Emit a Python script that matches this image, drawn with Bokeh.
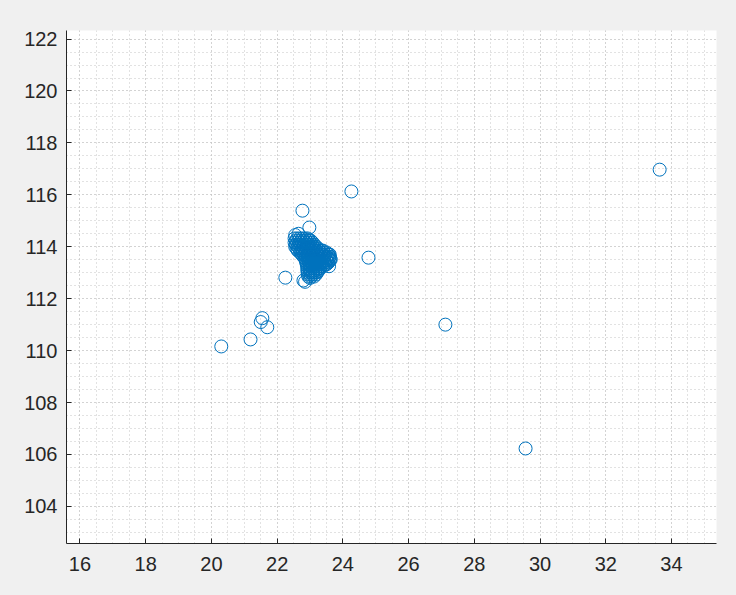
from bokeh.plotting import figure
from bokeh.models import Range1d, FixedTicker
from bokeh.embed import file_html
from bokeh.resources import INLINE

# Isolated points
x_outliers = [33.64, 29.56, 27.12, 24.26, 24.78, 22.77, 22.25, 20.30, 21.19, 21.50, 21.55, 21.70, 22.98,
              22.55, 22.65, 22.80, 22.85, 23.00, 23.60, 23.63, 23.58]
y_outliers = [116.97, 106.23, 111.00, 116.13, 113.58, 115.39, 112.81, 110.16, 110.43, 111.10, 111.25, 110.90, 114.74,
              114.45, 114.50, 112.70, 112.65, 112.80, 113.70, 113.50, 113.25]

# Dense cluster, read row by row (y level, then x values of the points on that row)
cluster_y_levels = [114.32, 114.24, 114.16, 114.08, 114.00, 113.93, 113.85, 113.78, 113.70, 113.62,
                    113.55, 113.47, 113.39, 113.32, 113.24, 113.16, 113.08, 113.01, 112.93, 112.85]
cluster_x_rows = [
    [22.53, 22.61, 22.69, 22.77, 22.85, 22.93],
    [22.57, 22.65, 22.73, 22.81, 22.89, 22.97, 23.02],
    [22.53, 22.61, 22.69, 22.77, 22.85, 22.93, 23.01, 23.08],
    [22.57, 22.65, 22.73, 22.81, 22.89, 22.97, 23.05, 23.13],
    [22.55, 22.63, 22.71, 22.79, 22.87, 22.95, 23.03, 23.11, 23.19],
    [22.59, 22.67, 22.75, 22.83, 22.91, 22.99, 23.07, 23.15, 23.25],
    [22.63, 22.71, 22.79, 22.87, 22.95, 23.03, 23.11, 23.19, 23.27, 23.35, 23.40],
    [22.70, 22.78, 22.86, 22.94, 23.02, 23.10, 23.18, 23.26, 23.34, 23.42, 23.50],
    [22.75, 22.83, 22.91, 22.99, 23.07, 23.15, 23.23, 23.31, 23.39, 23.47, 23.55, 23.58],
    [22.80, 22.88, 22.96, 23.04, 23.12, 23.20, 23.28, 23.36, 23.44, 23.52, 23.60],
    [22.85, 22.93, 23.01, 23.09, 23.17, 23.25, 23.33, 23.41, 23.49, 23.57, 23.62],
    [22.87, 22.95, 23.03, 23.11, 23.19, 23.27, 23.35, 23.43, 23.51, 23.60],
    [22.89, 22.97, 23.05, 23.13, 23.21, 23.29, 23.37, 23.45, 23.53, 23.56],
    [22.90, 22.98, 23.06, 23.14, 23.22, 23.30, 23.38, 23.46, 23.50],
    [22.92, 23.00, 23.08, 23.16, 23.24, 23.32, 23.40],
    [22.92, 23.00, 23.08, 23.16, 23.24, 23.30],
    [22.92, 23.00, 23.08, 23.16, 23.26],
    [22.93, 23.01, 23.09, 23.17, 23.22],
    [22.93, 23.01, 23.09, 23.18],
    [22.95, 23.03, 23.12],
]

x_major = [16, 18, 20, 22, 24, 26, 28, 30, 32, 34]
y_major = [104, 106, 108, 110, 112, 114, 116, 118, 120, 122]
x_minor = [15.5 + 0.5 * i for i in range(41)]
y_minor = [102.5 + 0.5 * i for i in range(41)]

xs = list(x_outliers)
ys = list(y_outliers)
for yl, row in zip(cluster_y_levels, cluster_x_rows):
    xs.extend(row)
    ys.extend([yl] * len(row))

p = figure(width=720, height=579, output_backend="svg", toolbar_location=None,
           x_range=Range1d(15.59, 35.37), y_range=Range1d(102.57, 122.33),
           min_border_left=66, min_border_right=4, min_border_top=30, min_border_bottom=36,
           background_fill_color="white", border_fill_color="#f0f0f0")
p.outline_line_color = None

p.scatter(xs, ys, marker="circle", size=13, fill_color=None,
          line_color="#0072BD", line_width=1)

for ax, maj, mnr in ((p.xaxis[0], x_major, x_minor), (p.yaxis[0], y_major, y_minor)):
    ax.ticker = FixedTicker(ticks=maj, minor_ticks=mnr)
    ax.axis_line_color = "#262626"
    ax.axis_line_width = 1
    ax.major_tick_in = 5
    ax.major_tick_out = 0
    ax.major_tick_line_color = "#262626"
    ax.minor_tick_in = 0
    ax.minor_tick_out = 0
    ax.major_label_text_font = "Liberation Sans"
    ax.major_label_text_font_size = "20px"
    ax.major_label_text_color = "#262626"
p.xaxis[0].major_label_standoff = 13
p.yaxis[0].major_label_standoff = 9

for g in (p.xgrid[0], p.ygrid[0]):
    g.grid_line_color = "#c4c4c4"
    g.grid_line_dash = "1 3"
    g.grid_line_width = 1
    g.minor_grid_line_color = "#c4c4c4"
    g.minor_grid_line_dash = "1 3"
    g.minor_grid_line_width = 1

html = file_html(p, INLINE)
html = html.replace("<head>", "<head><style>body{background:#f0f0f0;}</style>", 1)
open("out.html", "w").write(html)
